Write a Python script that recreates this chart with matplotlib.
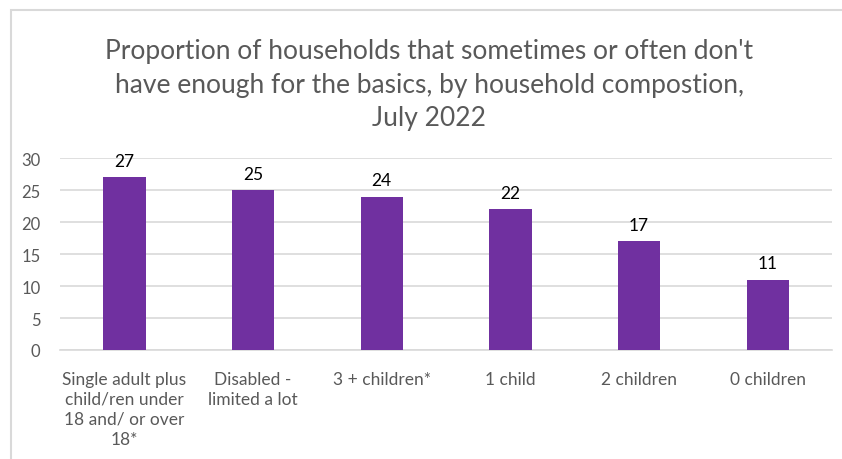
import matplotlib.pyplot as plt
from matplotlib.patches import Rectangle

# Household composition data (%)
categories = [
    "Single adult plus\nchild/ren under\n18 and/ or over\n18*",
    "Disabled -\nlimited a lot",
    "3 + children*",
    "1 child",
    "2 children",
    "0 children",
]
values = [27, 25, 24, 22, 17, 11]
yticks = [0, 5, 10, 15, 20, 25, 30]

plt.rcParams['font.family'] = ['Lato', 'DejaVu Sans']

fig = plt.figure(figsize=(8.42, 4.6), dpi=100)
ax = fig.add_axes([0.0713, 0.237, 0.917, 0.417])

# chart frame
fig.patches.append(Rectangle((11 / 842, -0.1), 1.0, 1 - 11 / 460 + 0.1,
                             transform=fig.transFigure, fill=False,
                             edgecolor="#D9D9D9", linewidth=1.5))

x = range(len(values))
bars = ax.bar(x, values, width=0.33, color="#7030A0", zorder=3)
for b, v in zip(bars, values):
    ax.text(b.get_x() + b.get_width() / 2, v + 1.3, str(v), ha="center",
            va="bottom", fontsize=12.5, color="#000000")

ax.set_xlim(-0.5, len(values) - 0.5)
ax.set_ylim(0, 30)
ax.set_yticks(yticks)
ax.yaxis.grid(True, color="#D9D9D9", linewidth=1.2, zorder=0)
ax.set_xticks(list(x))
ax.set_xticklabels(categories, fontsize=12.5, color="#595959", linespacing=1.3)
ax.tick_params(axis="y", labelsize=12, labelcolor="#595959", length=0, pad=14)
ax.tick_params(axis="x", length=0, pad=15)
for s in ["top", "right", "left"]:
    ax.spines[s].set_visible(False)
ax.spines["bottom"].set_color("#D9D9D9")
ax.spines["bottom"].set_linewidth(1.2)

fig.text(0.51, 0.815,
         "Proportion of households that sometimes or often don't\n"
         "have enough for the basics, by household compostion,\n"
         "July 2022",
         ha="center", va="center", fontsize=19, color="#595959",
         linespacing=1.42)

fig.savefig("out.png", dpi=100)
